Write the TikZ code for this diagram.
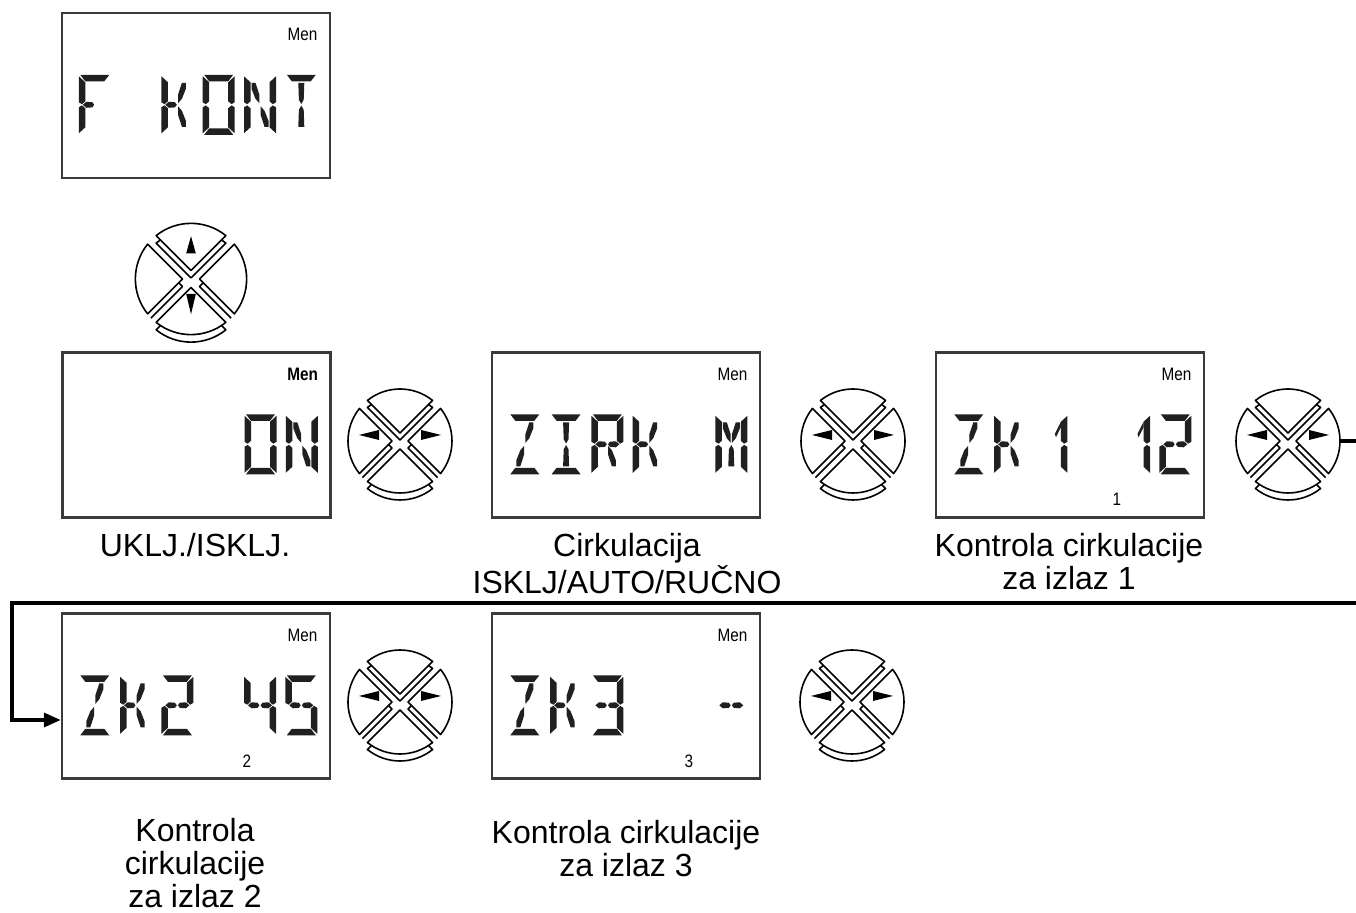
\documentclass[tikz,border=0pt]{standalone}
\usepackage{fontspec}
\setmainfont{Liberation Sans}
\newfontfamily\lcdfont{Liberation Sans}[FakeStretch=0.85]
\usetikzlibrary{arrows.meta}

\definecolor{boxgray}{HTML}{3A3A3A}
\definecolor{lcdblack}{HTML}{1E2022}

% LCD segments in a 32 x 60 cell (y pointing down)
\pgfkeys{/lcd/.cd,
  a/.code={\fill[lcdseg] (1.5,0) -- (30.5,0) -- (25.5,6.5) -- (6.5,6.5) -- cycle;},
  d/.code={\fill[lcdseg] (6.5,53.5) -- (25.5,53.5) -- (30.5,60) -- (1.5,60) -- cycle;},
  f/.code={\fill[lcdseg] (0,1.5) -- (6.5,7.5) -- (6.5,26.5) -- (3.2,29.4) -- (0,27.5) -- cycle;},
  e/.code={\fill[lcdseg] (0,32.5) -- (3.2,30.6) -- (6.5,33.5) -- (6.5,52.5) -- (0,58.5) -- cycle;},
  b/.code={\fill[lcdseg] (32,1.5) -- (25.5,7.5) -- (25.5,26.5) -- (28.8,29.4) -- (32,27.5) -- cycle;},
  c/.code={\fill[lcdseg] (32,32.5) -- (28.8,30.6) -- (25.5,33.5) -- (25.5,52.5) -- (32,58.5) -- cycle;},
  g1/.code={\fill[lcdseg] (4,30) -- (7.5,27) -- (13.5,27.4) -- (15.4,30) -- (13.5,32.6) -- (7.5,33) -- cycle;},
  g2/.code={\fill[lcdseg] (16.6,30) -- (18.5,27.4) -- (24.5,27) -- (28,30) -- (24.5,33) -- (18.5,32.6) -- cycle;},
  i/.code={\fill[lcdseg] (13,8) -- (19,8) -- (18.4,25) -- (16,29.2) -- (13.6,25) -- cycle;},
  l/.code={\fill[lcdseg] (16,30.8) -- (18.4,35) -- (19,52) -- (13,52) -- (13.6,35) -- cycle;},
  h/.code={\fill[lcdseg] (7.5,8) -- (11.5,8) -- (15.4,20) -- (15.4,28.5) -- (11.5,24) -- (7.5,14) -- cycle;},
  j/.code={\fill[lcdseg] (24.5,8) -- (20.5,8) -- (16.6,20) -- (16.6,28.5) -- (20.5,24) -- (24.5,14) -- cycle;},
  k/.code={\fill[lcdseg] (7.5,52) -- (11.5,52) -- (15.4,40) -- (15.4,31.5) -- (11.5,36) -- (7.5,46) -- cycle;},
  m/.code={\fill[lcdseg] (24.5,52) -- (20.5,52) -- (16.6,40) -- (16.6,31.5) -- (20.5,36) -- (24.5,46) -- cycle;},
  q/.code={\fill[lcdseg] (25.5,7.5) -- (25.5,13) -- (20.5,23) -- (19.5,19.5) -- cycle;},
  % characters
  F/.style={a,f,e,g1},
  K/.style={f,e,g1,j,m},
  O/.style={a,b,c,d,e,f},
  N/.style={f,e,h,m,b,c},
  T/.style={a,i,l},
  Z/.style={a,j,k,d},
  I/.style={a,i,l,d},
  R/.style={a,f,e,b,g1,g2,m},
  M/.style={f,e,b,c,h,j,l},
  1/.style={q,b,c},
  2/.style={a,b,g1,g2,e,d},
  3/.style={a,b,g1,g2,c,d},
  4/.style={f,g1,g2,b,c},
  5/.style={a,f,g1,g2,c,d},
  minus/.style={g1,g2},
}
\newcommand\lcdchar[2]{%
  \begin{scope}[shift={(18+41.3*#1,63)}]\pgfkeys{/lcd/.cd,#2}\end{scope}}

% four-way key, radius 52
\newcommand\keyface[1]{(#1:8) -- (#1-38.75:52)
  arc[start angle=#1-38.75, end angle=#1+38.75, radius=52] -- cycle}
\newcommand\rockerkeys{%
  \node[circle, minimum size=52pt, inner sep=0pt] (-c) {};
  % side faces, only the bottom key shows its rim
  \begin{scope}
    \clip (0,0) circle[radius=52.4];
    \foreach \p in {-90,0,180}
      \draw[keyline, shift={(0,7)}] \keyface{\p};
  \end{scope}
  \draw[keyline, shift={(0,7)}] \keyface{90};
  % top faces
  \foreach \p in {-90,0,90,180}
    \draw[keyline] \keyface{\p};
}

\tikzset{
  lcdseg/.style={fill=lcdblack},
  lcdbox/.style={draw=boxgray, line width=1.2pt, minimum width=134pt,
    minimum height=82.5pt, inner sep=0pt},
  men/.style={font=\lcdfont\fontsize{9}{9}\selectfont, anchor=base east, inner sep=0pt},
  subnum/.style={font=\lcdfont\fontsize{9}{9}\selectfont, anchor=base, inner sep=0pt},
  caption/.style={font=\fontsize{16}{16.5}\selectfont, align=center, anchor=north, inner sep=0pt},
  keyline/.style={draw=black, fill=white, line width=0.8pt, line join=round},
  flow/.style={line width=1.8pt, -{Triangle[length=8.5pt,width=7pt]}},
  pics/lrkey/.style={code={
    \rockerkeys
    \fill (-41,-6) -- (-21,-11) -- (-21,-1) -- cycle;
    \fill (41,-6) -- (21,-11) -- (21,-1) -- cycle;
  }},
  pics/udkey/.style={code={
    \rockerkeys
    \fill (0,-40) -- (-4.5,-24) -- (4.5,-24) -- cycle;
    \fill (0,33) -- (-4.5,14) -- (4.5,14) -- cycle;
  }},
}

\begin{document}
\begin{tikzpicture}[x=0.5pt, y=-0.5pt]
  \useasboundingbox (0,0) rectangle (1356,913);

  % Function display
  \node[lcdbox] (kont) at (196,95.5) {};
  \begin{scope}[shift={(kont.north west)}]
    \lcdchar{0}{F}\lcdchar{2}{K}\lcdchar{3}{O}\lcdchar{4}{N}\lcdchar{5}{T}
    \node[men] at (257,29) {Men};
  \end{scope}

  % Up/down key
  \pic[scale=1.07] (ud) at (191,279) {udkey};

  % Row 1 displays
  \node[lcdbox] (onoff) at (196.5,435) {};
  \begin{scope}[shift={(onoff.north west)}]
    \lcdchar{4}{O}\lcdchar{5}{N}
    \node[men, font=\lcdfont\bfseries\fontsize{9}{9}\selectfont] at (257,29) {Men};
  \end{scope}

  \node[lcdbox] (zirk) at (626,435) {};
  \begin{scope}[shift={(zirk.north west)}]
    \lcdchar{0}{Z}\lcdchar{1}{I}\lcdchar{2}{R}\lcdchar{3}{K}\lcdchar{5}{M}
    \node[men] at (257,29) {Men};
  \end{scope}

  \node[lcdbox] (zk1) at (1070,435) {};
  \begin{scope}[shift={(zk1.north west)}]
    \lcdchar{0}{Z}\lcdchar{1}{K}\lcdchar{2}{1}\lcdchar{4}{1}\lcdchar{5}{2}
    \node[men] at (257,29) {Men};
    \node[subnum] at (182,154) {1};
  \end{scope}

  % Row 2 displays
  \node[lcdbox] (zk2) at (196,696) {};
  \begin{scope}[shift={(zk2.north west)}]
    \lcdchar{0}{Z}\lcdchar{1}{K}\lcdchar{2}{2}\lcdchar{4}{4}\lcdchar{5}{5}
    \node[men] at (257,29) {Men};
    \node[subnum] at (186,155) {2};
  \end{scope}

  \node[lcdbox] (zk3) at (626,696) {};
  \begin{scope}[shift={(zk3.north west)}]
    \lcdchar{0}{Z}\lcdchar{1}{K}\lcdchar{2}{3}\lcdchar{5}{minus}
    \node[men] at (257,29) {Men};
    \node[subnum] at (198,155) {3};
  \end{scope}

  % Left/right keys
  \pic (b1) at (400,441) {lrkey};
  \pic (b2) at (853,441) {lrkey};
  \pic (b3) at (1288,441) {lrkey};
  \pic (b4) at (400,702) {lrkey};
  \pic (b5) at (852,702) {lrkey};

  % Wrap-around connector
  \coordinate (wrapR) at (1380,603);
  \coordinate (wrapL) at (12,603);
  \draw[flow] (b3-c.east) -| (wrapR) -- (wrapL) |- ([yshift=-12pt]zk2.west);

  % Captions
  \node[caption] (cap1) at (195,533) {UKLJ./ISKLJ.};
  \node[caption] (cap2) at (627,533) {Cirkulacija\\ISKLJ/AUTO/RUČNO};
  \node[caption] (cap3) at (1069,533) {Kontrola cirkulacije\\za izlaz 1};
  \node[caption] (cap4) at (195,818) {Kontrola\\cirkulacije\\za izlaz 2};
  \node[caption] (cap5) at (626,820) {Kontrola cirkulacije\\za izlaz 3};
\end{tikzpicture}
\end{document}
